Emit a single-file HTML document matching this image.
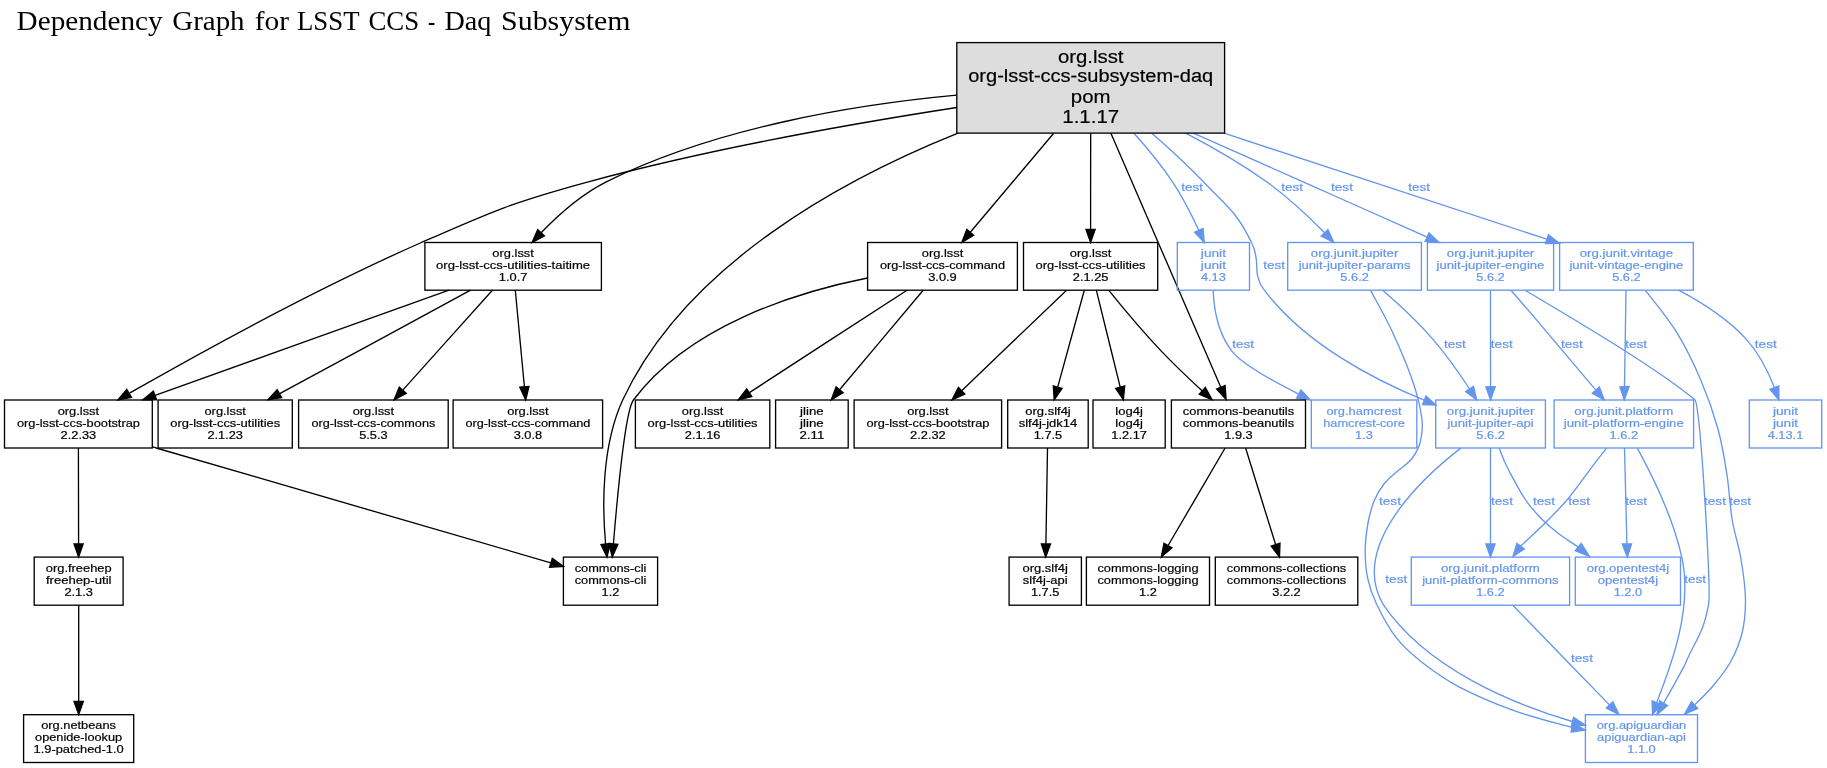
<!DOCTYPE html>
<html><head><meta charset="utf-8"><title>Dependency Graph</title>
<style>
html,body{margin:0;padding:0;background:#fff}
svg{display:block;will-change:transform}
text{font-family:"Liberation Sans",sans-serif;stroke-width:0.2px}
.k{stroke:#000}.b{stroke:#6495ed}
.t{font-family:"Liberation Serif",serif}
.e{fill:none;stroke-width:1.33}
.n{stroke-width:1.33}
</style></head>
<body>
<svg width="1827" height="768" viewBox="0 0 1827 768">
<rect width="1827" height="768" fill="#fff"/>
<text class="t" x="16.6" y="30" font-size="26.6" textLength="146.0" lengthAdjust="spacingAndGlyphs" fill="#000">Dependency</text>
<text class="t" x="172.3" y="30" font-size="26.6" textLength="72.3" lengthAdjust="spacingAndGlyphs" fill="#000">Graph</text>
<text class="t" x="254.7" y="30" font-size="26.6" textLength="34.3" lengthAdjust="spacingAndGlyphs" fill="#000">for</text>
<text class="t" x="297.0" y="30" font-size="26.6" textLength="62.5" lengthAdjust="spacingAndGlyphs" fill="#000">LSST</text>
<text class="t" x="368.5" y="30" font-size="26.6" textLength="50.6" lengthAdjust="spacingAndGlyphs" fill="#000">CCS</text>
<text class="t" x="428.1" y="30" font-size="26.6" textLength="7.2" lengthAdjust="spacingAndGlyphs" fill="#000">-</text>
<text class="t" x="444.4" y="30" font-size="26.6" textLength="47.0" lengthAdjust="spacingAndGlyphs" fill="#000">Daq</text>
<text class="t" x="501.1" y="30" font-size="26.6" textLength="129.5" lengthAdjust="spacingAndGlyphs" fill="#000">Subsystem</text>
<path class="e" stroke="#000" d="M956.7,95.2C855.9,104.5 716.7,127.2 606.3,181.8C581.4,194.2 558.2,215.0 541.1,232.7"/><polygon fill="#000" stroke="#000" stroke-width="1.33" points="544.4,235.9 532.1,242.5 537.7,229.7"/>
<path class="e" stroke="#000" d="M1053.7,133.3C1027.8,164.0 993.8,204.3 970.3,232.3"/><polygon fill="#000" stroke="#000" stroke-width="1.33" points="973.8,235.3 961.8,242.4 966.8,229.4"/>
<path class="e" stroke="#000" d="M1090.7,133.3C1090.6,162.8 1090.6,201.2 1090.6,228.9"/><polygon fill="#000" stroke="#000" stroke-width="1.33" points="1095.2,229.3 1090.6,242.4 1086.0,229.3"/>
<path class="e" stroke="#6495ed" d="M1134.1,133.5C1147.4,148.2 1161.4,165.1 1172.5,181.8C1182.6,196.9 1191.7,214.9 1198.8,230.3"/><polygon fill="#6495ed" stroke="#6495ed" stroke-width="1.33" points="1203.1,228.6 1204.2,242.5 1194.6,232.3"/>
<text x="1192.2" y="190.7" font-size="11.4" text-anchor="middle" textLength="21.9" lengthAdjust="spacingAndGlyphs" fill="#6495ed" class="b">test</text>
<path class="e" stroke="#6495ed" d="M1185.7,133.2C1212.7,147.3 1241.6,164.0 1266.6,181.8C1287.4,196.7 1308.1,216.1 1324.3,232.5"/><polygon fill="#6495ed" stroke="#6495ed" stroke-width="1.33" points="1327.9,229.6 1333.7,242.3 1321.2,236.0"/>
<text x="1292.1" y="190.7" font-size="11.4" text-anchor="middle" textLength="21.9" lengthAdjust="spacingAndGlyphs" fill="#6495ed" class="b">test</text>
<path class="e" stroke="#6495ed" d="M1193.4,133.1C1228.0,148.5 1267.3,165.9 1303.1,181.8C1344.1,200.1 1390.4,220.8 1426.6,236.9"/><polygon fill="#6495ed" stroke="#6495ed" stroke-width="1.33" points="1429.0,232.9 1439.0,242.5 1425.1,241.3"/>
<text x="1342.0" y="190.7" font-size="11.4" text-anchor="middle" textLength="21.9" lengthAdjust="spacingAndGlyphs" fill="#6495ed" class="b">test</text>
<path class="e" stroke="#6495ed" d="M1224.1,133.2C1325.6,166.5 1461.6,211.2 1546.8,239.2"/><polygon fill="#6495ed" stroke="#6495ed" stroke-width="1.33" points="1548.4,234.9 1559.5,243.3 1545.5,243.6"/>
<text x="1419.1" y="190.7" font-size="11.4" text-anchor="middle" textLength="21.9" lengthAdjust="spacingAndGlyphs" fill="#6495ed" class="b">test</text>
<path class="e" stroke="#000" d="M956.7,107.5C854.8,123.3 711.5,148.4 588.3,181.8C512.1,202.5 493.7,210.7 421.4,242.5C314.6,289.6 195.4,355.5 129.5,393.2"/><polygon fill="#000" stroke="#000" stroke-width="1.33" points="131.5,397.4 117.8,399.9 126.8,389.4"/>
<path class="e" stroke="#000" d="M1110.8,133.1C1120.0,154.3 1147.5,217.8 1165.8,260.1C1184.1,302.5 1211.7,366.0 1220.8,387.2"/><polygon fill="#000" stroke="#000" stroke-width="1.33" points="1216.6,389.0 1226.1,399.3 1225.1,385.4"/>
<path class="e" stroke="#6495ed" d="M1151.8,133.2C1168.9,148.0 1187.4,165.1 1203.4,181.8C1227.0,206.8 1236.5,211.3 1251.5,242.5C1261.8,262.0 1251.0,272.8 1264.3,290.2C1304.8,343.6 1373.2,379.4 1424.1,400.2"/><polygon fill="#6495ed" stroke="#6495ed" stroke-width="1.33" points="1426.0,395.9 1435.9,405.0 1422.6,404.5"/>
<text x="1274.1" y="268.7" font-size="11.4" text-anchor="middle" textLength="21.9" lengthAdjust="spacingAndGlyphs" fill="#6495ed" class="b">test</text>
<path class="e" stroke="#000" d="M958.0,133.2C843.4,179.2 686.1,264.0 622.7,400.0C601.5,446.3 602.2,506.4 605.6,544.0"/><polygon fill="#000" stroke="#000" stroke-width="1.33" points="610.2,543.5 607.0,557.1 601.0,544.6"/>
<path class="e" stroke="#000" d="M449.0,290.2C371.0,318.2 238.8,365.5 155.1,395.4"/><polygon fill="#000" stroke="#000" stroke-width="1.33" points="156.6,399.8 142.8,399.9 153.4,391.1"/>
<path class="e" stroke="#000" d="M470.6,290.2C420.1,317.7 335.3,363.6 279.7,393.6"/><polygon fill="#000" stroke="#000" stroke-width="1.33" points="281.7,397.7 267.9,399.9 277.2,389.6"/>
<path class="e" stroke="#000" d="M492.4,290.2C468.6,316.6 430.0,359.9 403.0,389.9"/><polygon fill="#000" stroke="#000" stroke-width="1.33" points="406.3,393.3 394.1,399.9 399.3,387.1"/>
<path class="e" stroke="#000" d="M515.3,290.2C517.7,315.6 521.6,356.9 524.4,386.7"/><polygon fill="#000" stroke="#000" stroke-width="1.33" points="529.0,386.4 525.7,399.9 519.8,387.1"/>
<path class="e" stroke="#000" d="M907.0,290.2C865.0,317.4 795.2,362.6 749.4,392.6"/><polygon fill="#000" stroke="#000" stroke-width="1.33" points="751.8,396.6 738.2,399.9 746.7,388.8"/>
<path class="e" stroke="#000" d="M923.2,290.2C901.2,316.4 865.0,359.6 839.8,389.5"/><polygon fill="#000" stroke="#000" stroke-width="1.33" points="843.1,392.7 831.2,399.9 836.1,386.8"/>
<path class="e" stroke="#000" d="M867.4,278.0C795.1,292.5 689.0,325.7 633.4,400.0C625.2,411.3 617.5,494.7 613.4,543.8"/><polygon fill="#000" stroke="#000" stroke-width="1.33" points="617.9,544.3 612.3,557.0 608.8,543.6"/>
<path class="e" stroke="#000" d="M1066.6,290.2C1038.8,316.8 993.0,360.7 961.7,390.7"/><polygon fill="#000" stroke="#000" stroke-width="1.33" points="964.8,394.1 952.0,399.9 958.4,387.4"/>
<path class="e" stroke="#000" d="M1084.3,290.2C1077.2,315.8 1065.9,357.3 1057.7,387.1"/><polygon fill="#000" stroke="#000" stroke-width="1.33" points="1062.1,388.4 1054.2,399.9 1053.3,386.0"/>
<path class="e" stroke="#000" d="M1096.3,290.2C1102.6,315.8 1112.9,357.3 1120.2,387.1"/><polygon fill="#000" stroke="#000" stroke-width="1.33" points="1124.7,386.0 1123.4,399.9 1115.7,388.3"/>
<path class="e" stroke="#000" d="M1108.8,290.3C1122.7,307.5 1142.6,331.3 1161.3,351.1C1174.2,364.6 1189.0,378.7 1202.3,390.9"/><polygon fill="#000" stroke="#000" stroke-width="1.33" points="1205.4,387.5 1212.0,399.7 1199.2,394.3"/>
<path class="e" stroke="#6495ed" d="M1213.1,290.4C1213.9,308.6 1218.3,333.7 1231.9,351.1C1241.3,363.3 1270.5,379.9 1298.6,394.1"/><polygon fill="#6495ed" stroke="#6495ed" stroke-width="1.33" points="1300.9,390.0 1310.4,400.0 1296.7,398.3"/>
<text x="1243.2" y="348.1" font-size="11.4" text-anchor="middle" textLength="21.9" lengthAdjust="spacingAndGlyphs" fill="#6495ed" class="b">test</text>
<path class="e" stroke="#6495ed" d="M1382.9,290.5C1398.5,303.9 1417.8,321.6 1432.8,339.1C1446.0,354.4 1459.0,372.8 1469.3,388.5"/><polygon fill="#6495ed" stroke="#6495ed" stroke-width="1.33" points="1473.5,386.4 1476.7,399.9 1465.7,391.5"/>
<text x="1454.9" y="348.1" font-size="11.4" text-anchor="middle" textLength="21.9" lengthAdjust="spacingAndGlyphs" fill="#6495ed" class="b">test</text>
<path class="e" stroke="#6495ed" d="M1370.6,290.4C1374.3,297.5 1386.0,318.0 1393.0,333.2C1400.0,348.4 1407.9,367.2 1412.7,381.3C1417.5,395.4 1420.5,408.1 1421.8,418.0C1423.1,427.9 1422.1,434.2 1420.5,441.0C1418.9,447.8 1415.9,453.4 1412.0,458.5C1408.1,463.6 1401.7,467.2 1397.0,471.5C1392.3,475.8 1387.8,479.2 1384.0,484.0C1380.2,488.8 1377.1,493.7 1374.5,500.0C1371.9,506.3 1369.8,513.7 1368.2,522.0C1366.7,530.3 1365.3,540.7 1365.2,550.0C1365.1,559.3 1365.7,569.0 1367.6,578.0C1369.5,587.0 1371.7,594.0 1376.5,604.0C1381.3,614.0 1389.0,628.5 1396.6,638.2C1404.2,647.9 1411.7,654.3 1421.9,662.3C1432.1,670.3 1442.8,678.3 1458.0,686.3C1473.2,694.3 1494.4,703.5 1513.4,710.4C1532.4,717.3 1562.2,724.6 1572.0,727.5"/><polygon fill="#6495ed" stroke="#6495ed" stroke-width="1.33" points="1571.1,732.0 1585.2,730.1 1572.9,723.0"/>
<text x="1390.0" y="504.8" font-size="11.4" text-anchor="middle" textLength="21.9" lengthAdjust="spacingAndGlyphs" fill="#6495ed" class="b">test</text>
<path class="e" stroke="#6495ed" d="M1490.5,290.2C1490.5,315.6 1490.5,356.9 1490.6,386.7"/><polygon fill="#6495ed" stroke="#6495ed" stroke-width="1.33" points="1495.2,386.6 1490.6,399.9 1485.9,386.8"/>
<text x="1501.8" y="348.1" font-size="11.4" text-anchor="middle" textLength="21.9" lengthAdjust="spacingAndGlyphs" fill="#6495ed" class="b">test</text>
<path class="e" stroke="#6495ed" d="M1510.9,290.2C1534.2,316.6 1570.0,359.9 1595.7,389.9"/><polygon fill="#6495ed" stroke="#6495ed" stroke-width="1.33" points="1599.4,387.0 1604.2,399.9 1592.3,393.3"/>
<text x="1571.9" y="348.1" font-size="11.4" text-anchor="middle" textLength="21.9" lengthAdjust="spacingAndGlyphs" fill="#6495ed" class="b">test</text>
<path class="e" stroke="#6495ed" d="M1525.2,290.3C1573.0,318.8 1656.4,367.5 1695.1,400.0C1700.7,409.9 1711.4,594.0 1708.4,605.2C1703.3,634.5 1695.3,639.4 1684.3,665.9C1677.9,678.1 1670.4,691.3 1663.7,703.0"/><polygon fill="#6495ed" stroke="#6495ed" stroke-width="1.33" points="1667.6,705.5 1657.0,714.6 1659.6,700.9"/>
<text x="1715.0" y="504.8" font-size="11.4" text-anchor="middle" textLength="21.9" lengthAdjust="spacingAndGlyphs" fill="#6495ed" class="b">test</text>
<path class="e" stroke="#6495ed" d="M1626.0,290.2C1625.6,315.6 1625.0,356.9 1624.5,386.7"/><polygon fill="#6495ed" stroke="#6495ed" stroke-width="1.33" points="1629.1,386.5 1624.3,399.9 1619.9,386.9"/>
<text x="1636.2" y="348.1" font-size="11.4" text-anchor="middle" textLength="21.9" lengthAdjust="spacingAndGlyphs" fill="#6495ed" class="b">test</text>
<path class="e" stroke="#6495ed" d="M1678.7,290.2C1701.3,302.2 1727.3,318.6 1746.2,339.1C1758.8,352.8 1767.9,371.1 1774.2,387.1"/><polygon fill="#6495ed" stroke="#6495ed" stroke-width="1.33" points="1778.8,385.9 1778.9,399.8 1770.0,389.2"/>
<text x="1765.8" y="348.1" font-size="11.4" text-anchor="middle" textLength="21.9" lengthAdjust="spacingAndGlyphs" fill="#6495ed" class="b">test</text>
<path class="e" stroke="#6495ed" d="M1645.4,290.4C1650.7,297.5 1667.9,318.0 1677.2,333.2C1686.5,348.4 1694.5,365.2 1701.3,381.3C1708.1,397.4 1713.8,413.9 1718.1,429.5C1722.4,445.1 1724.7,459.9 1727.0,475.0C1729.3,490.1 1729.9,506.2 1732.2,520.0C1734.5,533.8 1738.6,545.0 1740.8,558.0C1743.0,571.0 1745.2,585.7 1745.4,598.0C1745.7,610.3 1744.8,621.3 1742.3,632.0C1739.8,642.7 1735.5,652.9 1730.5,662.0C1725.5,671.1 1718.5,679.3 1712.5,686.5C1706.5,693.7 1697.6,701.9 1694.6,705.0"/><polygon fill="#6495ed" stroke="#6495ed" stroke-width="1.33" points="1691.5,701.6 1684.6,714.0 1697.7,708.4"/>
<text x="1740.1" y="504.8" font-size="11.4" text-anchor="middle" textLength="21.9" lengthAdjust="spacingAndGlyphs" fill="#6495ed" class="b">test</text>
<path class="e" stroke="#000" d="M78.4,448.0C78.5,473.3 78.5,514.3 78.6,543.9"/><polygon fill="#000" stroke="#000" stroke-width="1.33" points="83.2,543.9 78.6,557.0 74.0,543.9"/>
<path class="e" stroke="#000" d="M152.6,446.9C153.8,447.3 155.0,447.6 156.2,448.0C298.6,489.4 464.3,537.6 550.8,562.8"/><polygon fill="#000" stroke="#000" stroke-width="1.33" points="552.3,558.4 563.5,566.5 549.6,567.3"/>
<path class="e" stroke="#000" d="M1047.5,448.0C1047.1,473.3 1046.4,514.3 1045.9,543.9"/><polygon fill="#000" stroke="#000" stroke-width="1.33" points="1050.5,543.9 1045.7,557.0 1041.3,543.9"/>
<path class="e" stroke="#000" d="M1225.1,448.0C1210.1,473.7 1185.5,515.8 1168.1,545.5"/><polygon fill="#000" stroke="#000" stroke-width="1.33" points="1172.0,547.8 1161.3,557.0 1164.0,543.3"/>
<path class="e" stroke="#000" d="M1245.6,448.0C1253.5,473.4 1266.3,514.7 1275.5,544.3"/><polygon fill="#000" stroke="#000" stroke-width="1.33" points="1280.0,543.1 1279.5,557.0 1271.2,546.0"/>
<path class="e" stroke="#6495ed" d="M1490.5,448.0C1490.5,473.3 1490.5,514.3 1490.5,543.9"/><polygon fill="#6495ed" stroke="#6495ed" stroke-width="1.33" points="1495.1,543.9 1490.5,557.0 1485.8,543.9"/>
<text x="1502.0" y="504.8" font-size="11.4" text-anchor="middle" textLength="21.9" lengthAdjust="spacingAndGlyphs" fill="#6495ed" class="b">test</text>
<path class="e" stroke="#6495ed" d="M1499.2,448.2C1500.1,450.4 1502.2,456.3 1504.4,461.2C1506.6,466.1 1509.8,472.2 1512.5,477.4C1515.2,482.5 1518.0,487.6 1520.7,492.1C1523.4,496.6 1526.1,500.7 1528.8,504.3C1531.5,507.9 1534.3,511.0 1537.0,514.0C1539.7,517.0 1541.8,519.2 1545.1,522.2C1548.3,525.2 1552.7,528.9 1556.5,531.9C1560.3,534.9 1564.3,537.6 1567.9,540.1C1571.5,542.6 1576.5,545.9 1578.2,547.1"/><polygon fill="#6495ed" stroke="#6495ed" stroke-width="1.33" points="1575.2,550.7 1589.4,556.4 1581.2,543.5"/>
<text x="1544.0" y="504.8" font-size="11.4" text-anchor="middle" textLength="21.9" lengthAdjust="spacingAndGlyphs" fill="#6495ed" class="b">test</text>
<path class="e" stroke="#6495ed" d="M1460.8,448.1C1416.4,482.4 1349.8,549.1 1383.6,605.2C1427.0,668.9 1512.7,703.8 1572.3,721.5"/><polygon fill="#6495ed" stroke="#6495ed" stroke-width="1.33" points="1573.6,717.2 1585.3,725.3 1571.4,726.0"/>
<text x="1396.3" y="583.2" font-size="11.4" text-anchor="middle" textLength="21.9" lengthAdjust="spacingAndGlyphs" fill="#6495ed" class="b">test</text>
<path class="e" stroke="#6495ed" d="M1606.6,448.2C1604.5,450.9 1598.7,458.0 1593.9,464.4C1589.1,470.8 1582.5,480.0 1577.6,486.4C1572.7,492.8 1570.0,496.6 1564.6,502.7C1559.2,508.8 1551.1,517.0 1545.1,523.0C1539.1,529.0 1532.9,534.6 1528.8,538.5C1524.7,542.4 1522.0,544.9 1520.6,546.2"/><polygon fill="#6495ed" stroke="#6495ed" stroke-width="1.33" points="1516.9,543.4 1513.0,556.4 1524.3,549.0"/>
<text x="1579.1" y="504.8" font-size="11.4" text-anchor="middle" textLength="21.9" lengthAdjust="spacingAndGlyphs" fill="#6495ed" class="b">test</text>
<path class="e" stroke="#6495ed" d="M1624.5,448.0C1625.1,473.3 1626.2,514.3 1626.9,543.9"/><polygon fill="#6495ed" stroke="#6495ed" stroke-width="1.33" points="1631.6,543.9 1627.3,557.0 1622.3,543.9"/>
<text x="1636.1" y="504.8" font-size="11.4" text-anchor="middle" textLength="21.9" lengthAdjust="spacingAndGlyphs" fill="#6495ed" class="b">test</text>
<path class="e" stroke="#6495ed" d="M1637.3,448.1C1651.4,473.8 1672.8,517.0 1681.8,557.1C1693.1,608.5 1670.7,666.6 1656.6,702.7"/><polygon fill="#6495ed" stroke="#6495ed" stroke-width="1.33" points="1661.0,704.8 1652.6,714.5 1652.1,700.7"/>
<text x="1695.1" y="583.2" font-size="11.4" text-anchor="middle" textLength="21.9" lengthAdjust="spacingAndGlyphs" fill="#6495ed" class="b">test</text>
<path class="e" stroke="#000" d="M78.7,605.2C78.7,630.6 78.7,671.7 78.7,701.5"/><polygon fill="#000" stroke="#000" stroke-width="1.33" points="83.3,701.5 78.7,714.6 74.0,701.5"/>
<path class="e" stroke="#6495ed" d="M1512.8,605.2C1538.3,631.5 1580.0,674.7 1609.2,704.6"/><polygon fill="#6495ed" stroke="#6495ed" stroke-width="1.33" points="1612.8,701.8 1619.0,714.6 1606.3,708.1"/>
<text x="1582.0" y="662.3" font-size="11.4" text-anchor="middle" textLength="21.9" lengthAdjust="spacingAndGlyphs" fill="#6495ed" class="b">test</text>
<rect class="n" x="956.8" y="42.6" width="267.8" height="90.5" fill="#dddddd" stroke="#000"/>
<text x="1090.7" y="63.0" font-size="18.8" text-anchor="middle" textLength="65.6" lengthAdjust="spacingAndGlyphs" fill="#000" class="k">org.lsst</text>
<text x="1090.7" y="82.0" font-size="18.8" text-anchor="middle" textLength="245.0" lengthAdjust="spacingAndGlyphs" fill="#000" class="k">org-lsst-ccs-subsystem-daq</text>
<text x="1090.7" y="102.6" font-size="18.8" text-anchor="middle" textLength="39.7" lengthAdjust="spacingAndGlyphs" fill="#000" class="k">pom</text>
<text x="1090.7" y="123.0" font-size="18.8" text-anchor="middle" textLength="56.9" lengthAdjust="spacingAndGlyphs" fill="#000" class="k">1.1.17</text>
<rect class="n" x="424.9" y="242.5" width="176.5" height="47.7" fill="none" stroke="#000"/>
<text x="513.1" y="257.0" font-size="11.4" text-anchor="middle" textLength="41.5" lengthAdjust="spacingAndGlyphs" fill="#000" class="k">org.lsst</text>
<text x="513.1" y="269.0" font-size="11.4" text-anchor="middle" textLength="154.1" lengthAdjust="spacingAndGlyphs" fill="#000" class="k">org-lsst-ccs-utilities-taitime</text>
<text x="513.1" y="281.0" font-size="11.4" text-anchor="middle" textLength="28.5" lengthAdjust="spacingAndGlyphs" fill="#000" class="k">1.0.7</text>
<rect class="n" x="867.6" y="242.5" width="149.8" height="47.7" fill="none" stroke="#000"/>
<text x="942.5" y="257.0" font-size="11.4" text-anchor="middle" textLength="41.5" lengthAdjust="spacingAndGlyphs" fill="#000" class="k">org.lsst</text>
<text x="942.5" y="269.0" font-size="11.4" text-anchor="middle" textLength="125.0" lengthAdjust="spacingAndGlyphs" fill="#000" class="k">org-lsst-ccs-command</text>
<text x="942.5" y="281.0" font-size="11.4" text-anchor="middle" textLength="28.5" lengthAdjust="spacingAndGlyphs" fill="#000" class="k">3.0.9</text>
<rect class="n" x="1023.5" y="242.5" width="134.2" height="47.7" fill="none" stroke="#000"/>
<text x="1090.6" y="257.0" font-size="11.4" text-anchor="middle" textLength="41.5" lengthAdjust="spacingAndGlyphs" fill="#000" class="k">org.lsst</text>
<text x="1090.6" y="269.0" font-size="11.4" text-anchor="middle" textLength="110.0" lengthAdjust="spacingAndGlyphs" fill="#000" class="k">org-lsst-ccs-utilities</text>
<text x="1090.6" y="281.0" font-size="11.4" text-anchor="middle" textLength="35.6" lengthAdjust="spacingAndGlyphs" fill="#000" class="k">2.1.25</text>
<rect class="n" x="1177.3" y="242.5" width="72.2" height="47.7" fill="none" stroke="#6495ed"/>
<text x="1213.4" y="257.0" font-size="11.4" text-anchor="middle" textLength="25.1" lengthAdjust="spacingAndGlyphs" fill="#6495ed" class="b">junit</text>
<text x="1213.4" y="269.0" font-size="11.4" text-anchor="middle" textLength="25.1" lengthAdjust="spacingAndGlyphs" fill="#6495ed" class="b">junit</text>
<text x="1213.4" y="281.0" font-size="11.4" text-anchor="middle" textLength="24.9" lengthAdjust="spacingAndGlyphs" fill="#6495ed" class="b">4.13</text>
<rect class="n" x="1287.7" y="242.5" width="133.7" height="47.7" fill="none" stroke="#6495ed"/>
<text x="1354.6" y="257.0" font-size="11.4" text-anchor="middle" textLength="87.5" lengthAdjust="spacingAndGlyphs" fill="#6495ed" class="b">org.junit.jupiter</text>
<text x="1354.6" y="269.0" font-size="11.4" text-anchor="middle" textLength="111.8" lengthAdjust="spacingAndGlyphs" fill="#6495ed" class="b">junit-jupiter-params</text>
<text x="1354.6" y="281.0" font-size="11.4" text-anchor="middle" textLength="28.5" lengthAdjust="spacingAndGlyphs" fill="#6495ed" class="b">5.6.2</text>
<rect class="n" x="1427.4" y="242.5" width="126.2" height="47.7" fill="none" stroke="#6495ed"/>
<text x="1490.5" y="257.0" font-size="11.4" text-anchor="middle" textLength="87.5" lengthAdjust="spacingAndGlyphs" fill="#6495ed" class="b">org.junit.jupiter</text>
<text x="1490.5" y="269.0" font-size="11.4" text-anchor="middle" textLength="107.8" lengthAdjust="spacingAndGlyphs" fill="#6495ed" class="b">junit-jupiter-engine</text>
<text x="1490.5" y="281.0" font-size="11.4" text-anchor="middle" textLength="28.5" lengthAdjust="spacingAndGlyphs" fill="#6495ed" class="b">5.6.2</text>
<rect class="n" x="1559.6" y="242.5" width="133.7" height="47.7" fill="none" stroke="#6495ed"/>
<text x="1626.4" y="257.0" font-size="11.4" text-anchor="middle" textLength="93.3" lengthAdjust="spacingAndGlyphs" fill="#6495ed" class="b">org.junit.vintage</text>
<text x="1626.4" y="269.0" font-size="11.4" text-anchor="middle" textLength="114.0" lengthAdjust="spacingAndGlyphs" fill="#6495ed" class="b">junit-vintage-engine</text>
<text x="1626.4" y="281.0" font-size="11.4" text-anchor="middle" textLength="28.5" lengthAdjust="spacingAndGlyphs" fill="#6495ed" class="b">5.6.2</text>
<rect class="n" x="4.5" y="400.0" width="147.8" height="48.0" fill="none" stroke="#000"/>
<text x="78.4" y="415.0" font-size="11.4" text-anchor="middle" textLength="41.5" lengthAdjust="spacingAndGlyphs" fill="#000" class="k">org.lsst</text>
<text x="78.4" y="427.0" font-size="11.4" text-anchor="middle" textLength="123.0" lengthAdjust="spacingAndGlyphs" fill="#000" class="k">org-lsst-ccs-bootstrap</text>
<text x="78.4" y="439.0" font-size="11.4" text-anchor="middle" textLength="35.6" lengthAdjust="spacingAndGlyphs" fill="#000" class="k">2.2.33</text>
<rect class="n" x="158.1" y="400.0" width="134.2" height="48.0" fill="none" stroke="#000"/>
<text x="225.2" y="415.0" font-size="11.4" text-anchor="middle" textLength="41.5" lengthAdjust="spacingAndGlyphs" fill="#000" class="k">org.lsst</text>
<text x="225.2" y="427.0" font-size="11.4" text-anchor="middle" textLength="110.0" lengthAdjust="spacingAndGlyphs" fill="#000" class="k">org-lsst-ccs-utilities</text>
<text x="225.2" y="439.0" font-size="11.4" text-anchor="middle" textLength="35.6" lengthAdjust="spacingAndGlyphs" fill="#000" class="k">2.1.23</text>
<rect class="n" x="298.6" y="400.0" width="149.6" height="48.0" fill="none" stroke="#000"/>
<text x="373.4" y="415.0" font-size="11.4" text-anchor="middle" textLength="41.5" lengthAdjust="spacingAndGlyphs" fill="#000" class="k">org.lsst</text>
<text x="373.4" y="427.0" font-size="11.4" text-anchor="middle" textLength="123.7" lengthAdjust="spacingAndGlyphs" fill="#000" class="k">org-lsst-ccs-commons</text>
<text x="373.4" y="439.0" font-size="11.4" text-anchor="middle" textLength="28.5" lengthAdjust="spacingAndGlyphs" fill="#000" class="k">5.5.3</text>
<rect class="n" x="453.1" y="400.0" width="149.5" height="48.0" fill="none" stroke="#000"/>
<text x="527.9" y="415.0" font-size="11.4" text-anchor="middle" textLength="41.5" lengthAdjust="spacingAndGlyphs" fill="#000" class="k">org.lsst</text>
<text x="527.9" y="427.0" font-size="11.4" text-anchor="middle" textLength="125.0" lengthAdjust="spacingAndGlyphs" fill="#000" class="k">org-lsst-ccs-command</text>
<text x="527.9" y="439.0" font-size="11.4" text-anchor="middle" textLength="28.5" lengthAdjust="spacingAndGlyphs" fill="#000" class="k">3.0.8</text>
<rect class="n" x="635.4" y="400.0" width="134.4" height="48.0" fill="none" stroke="#000"/>
<text x="702.6" y="415.0" font-size="11.4" text-anchor="middle" textLength="41.5" lengthAdjust="spacingAndGlyphs" fill="#000" class="k">org.lsst</text>
<text x="702.6" y="427.0" font-size="11.4" text-anchor="middle" textLength="110.0" lengthAdjust="spacingAndGlyphs" fill="#000" class="k">org-lsst-ccs-utilities</text>
<text x="702.6" y="439.0" font-size="11.4" text-anchor="middle" textLength="35.6" lengthAdjust="spacingAndGlyphs" fill="#000" class="k">2.1.16</text>
<rect class="n" x="775.6" y="400.0" width="72.6" height="48.0" fill="none" stroke="#000"/>
<text x="811.9" y="415.0" font-size="11.4" text-anchor="middle" textLength="23.6" lengthAdjust="spacingAndGlyphs" fill="#000" class="k">jline</text>
<text x="811.9" y="427.0" font-size="11.4" text-anchor="middle" textLength="23.6" lengthAdjust="spacingAndGlyphs" fill="#000" class="k">jline</text>
<text x="811.9" y="439.0" font-size="11.4" text-anchor="middle" textLength="24.9" lengthAdjust="spacingAndGlyphs" fill="#000" class="k">2.11</text>
<rect class="n" x="854.1" y="400.0" width="147.5" height="48.0" fill="none" stroke="#000"/>
<text x="927.9" y="415.0" font-size="11.4" text-anchor="middle" textLength="41.5" lengthAdjust="spacingAndGlyphs" fill="#000" class="k">org.lsst</text>
<text x="927.9" y="427.0" font-size="11.4" text-anchor="middle" textLength="123.0" lengthAdjust="spacingAndGlyphs" fill="#000" class="k">org-lsst-ccs-bootstrap</text>
<text x="927.9" y="439.0" font-size="11.4" text-anchor="middle" textLength="35.6" lengthAdjust="spacingAndGlyphs" fill="#000" class="k">2.2.32</text>
<rect class="n" x="1007.7" y="400.0" width="80.5" height="48.0" fill="none" stroke="#000"/>
<text x="1048.0" y="415.0" font-size="11.4" text-anchor="middle" textLength="45.5" lengthAdjust="spacingAndGlyphs" fill="#000" class="k">org.slf4j</text>
<text x="1048.0" y="427.0" font-size="11.4" text-anchor="middle" textLength="58.7" lengthAdjust="spacingAndGlyphs" fill="#000" class="k">slf4j-jdk14</text>
<text x="1048.0" y="439.0" font-size="11.4" text-anchor="middle" textLength="28.5" lengthAdjust="spacingAndGlyphs" fill="#000" class="k">1.7.5</text>
<rect class="n" x="1093.0" y="400.0" width="72.2" height="48.0" fill="none" stroke="#000"/>
<text x="1129.1" y="415.0" font-size="11.4" text-anchor="middle" textLength="27.6" lengthAdjust="spacingAndGlyphs" fill="#000" class="k">log4j</text>
<text x="1129.1" y="427.0" font-size="11.4" text-anchor="middle" textLength="27.6" lengthAdjust="spacingAndGlyphs" fill="#000" class="k">log4j</text>
<text x="1129.1" y="439.0" font-size="11.4" text-anchor="middle" textLength="35.6" lengthAdjust="spacingAndGlyphs" fill="#000" class="k">1.2.17</text>
<rect class="n" x="1171.4" y="400.0" width="134.1" height="48.0" fill="none" stroke="#000"/>
<text x="1238.5" y="415.0" font-size="11.4" text-anchor="middle" textLength="111.3" lengthAdjust="spacingAndGlyphs" fill="#000" class="k">commons-beanutils</text>
<text x="1238.5" y="427.0" font-size="11.4" text-anchor="middle" textLength="111.3" lengthAdjust="spacingAndGlyphs" fill="#000" class="k">commons-beanutils</text>
<text x="1238.5" y="439.0" font-size="11.4" text-anchor="middle" textLength="28.5" lengthAdjust="spacingAndGlyphs" fill="#000" class="k">1.9.3</text>
<rect class="n" x="1311.3" y="400.0" width="105.5" height="48.0" fill="none" stroke="#6495ed"/>
<text x="1364.0" y="415.0" font-size="11.4" text-anchor="middle" textLength="75.2" lengthAdjust="spacingAndGlyphs" fill="#6495ed" class="b">org.hamcrest</text>
<text x="1364.0" y="427.0" font-size="11.4" text-anchor="middle" textLength="81.6" lengthAdjust="spacingAndGlyphs" fill="#6495ed" class="b">hamcrest-core</text>
<text x="1364.0" y="439.0" font-size="11.4" text-anchor="middle" textLength="17.8" lengthAdjust="spacingAndGlyphs" fill="#6495ed" class="b">1.3</text>
<rect class="n" x="1435.7" y="400.0" width="109.7" height="48.0" fill="none" stroke="#6495ed"/>
<text x="1490.6" y="415.0" font-size="11.4" text-anchor="middle" textLength="87.5" lengthAdjust="spacingAndGlyphs" fill="#6495ed" class="b">org.junit.jupiter</text>
<text x="1490.6" y="427.0" font-size="11.4" text-anchor="middle" textLength="86.4" lengthAdjust="spacingAndGlyphs" fill="#6495ed" class="b">junit-jupiter-api</text>
<text x="1490.6" y="439.0" font-size="11.4" text-anchor="middle" textLength="28.5" lengthAdjust="spacingAndGlyphs" fill="#6495ed" class="b">5.6.2</text>
<rect class="n" x="1554.1" y="400.0" width="139.5" height="48.0" fill="none" stroke="#6495ed"/>
<text x="1623.8" y="415.0" font-size="11.4" text-anchor="middle" textLength="98.9" lengthAdjust="spacingAndGlyphs" fill="#6495ed" class="b">org.junit.platform</text>
<text x="1623.8" y="427.0" font-size="11.4" text-anchor="middle" textLength="119.9" lengthAdjust="spacingAndGlyphs" fill="#6495ed" class="b">junit-platform-engine</text>
<text x="1623.8" y="439.0" font-size="11.4" text-anchor="middle" textLength="28.5" lengthAdjust="spacingAndGlyphs" fill="#6495ed" class="b">1.6.2</text>
<rect class="n" x="1749.3" y="400.0" width="72.4" height="48.0" fill="none" stroke="#6495ed"/>
<text x="1785.5" y="415.0" font-size="11.4" text-anchor="middle" textLength="25.1" lengthAdjust="spacingAndGlyphs" fill="#6495ed" class="b">junit</text>
<text x="1785.5" y="427.0" font-size="11.4" text-anchor="middle" textLength="25.1" lengthAdjust="spacingAndGlyphs" fill="#6495ed" class="b">junit</text>
<text x="1785.5" y="439.0" font-size="11.4" text-anchor="middle" textLength="35.6" lengthAdjust="spacingAndGlyphs" fill="#6495ed" class="b">4.13.1</text>
<rect class="n" x="34.2" y="557.1" width="88.9" height="48.1" fill="none" stroke="#000"/>
<text x="78.7" y="572.0" font-size="11.4" text-anchor="middle" textLength="65.8" lengthAdjust="spacingAndGlyphs" fill="#000" class="k">org.freehep</text>
<text x="78.7" y="584.0" font-size="11.4" text-anchor="middle" textLength="65.6" lengthAdjust="spacingAndGlyphs" fill="#000" class="k">freehep-util</text>
<text x="78.7" y="596.0" font-size="11.4" text-anchor="middle" textLength="28.5" lengthAdjust="spacingAndGlyphs" fill="#000" class="k">2.1.3</text>
<rect class="n" x="563.4" y="557.1" width="94.2" height="48.1" fill="none" stroke="#000"/>
<text x="610.5" y="572.0" font-size="11.4" text-anchor="middle" textLength="71.7" lengthAdjust="spacingAndGlyphs" fill="#000" class="k">commons-cli</text>
<text x="610.5" y="584.0" font-size="11.4" text-anchor="middle" textLength="71.7" lengthAdjust="spacingAndGlyphs" fill="#000" class="k">commons-cli</text>
<text x="610.5" y="596.0" font-size="11.4" text-anchor="middle" textLength="17.8" lengthAdjust="spacingAndGlyphs" fill="#000" class="k">1.2</text>
<rect class="n" x="1009.1" y="557.1" width="72.3" height="48.1" fill="none" stroke="#000"/>
<text x="1045.2" y="572.0" font-size="11.4" text-anchor="middle" textLength="45.5" lengthAdjust="spacingAndGlyphs" fill="#000" class="k">org.slf4j</text>
<text x="1045.2" y="584.0" font-size="11.4" text-anchor="middle" textLength="44.7" lengthAdjust="spacingAndGlyphs" fill="#000" class="k">slf4j-api</text>
<text x="1045.2" y="596.0" font-size="11.4" text-anchor="middle" textLength="28.5" lengthAdjust="spacingAndGlyphs" fill="#000" class="k">1.7.5</text>
<rect class="n" x="1086.4" y="557.1" width="123.1" height="48.1" fill="none" stroke="#000"/>
<text x="1148.0" y="572.0" font-size="11.4" text-anchor="middle" textLength="101.2" lengthAdjust="spacingAndGlyphs" fill="#000" class="k">commons-logging</text>
<text x="1148.0" y="584.0" font-size="11.4" text-anchor="middle" textLength="101.2" lengthAdjust="spacingAndGlyphs" fill="#000" class="k">commons-logging</text>
<text x="1148.0" y="596.0" font-size="11.4" text-anchor="middle" textLength="17.8" lengthAdjust="spacingAndGlyphs" fill="#000" class="k">1.2</text>
<rect class="n" x="1215.3" y="557.1" width="142.5" height="48.1" fill="none" stroke="#000"/>
<text x="1286.5" y="572.0" font-size="11.4" text-anchor="middle" textLength="119.4" lengthAdjust="spacingAndGlyphs" fill="#000" class="k">commons-collections</text>
<text x="1286.5" y="584.0" font-size="11.4" text-anchor="middle" textLength="119.4" lengthAdjust="spacingAndGlyphs" fill="#000" class="k">commons-collections</text>
<text x="1286.5" y="596.0" font-size="11.4" text-anchor="middle" textLength="28.5" lengthAdjust="spacingAndGlyphs" fill="#000" class="k">3.2.2</text>
<rect class="n" x="1411.3" y="557.1" width="158.3" height="48.1" fill="none" stroke="#6495ed"/>
<text x="1490.4" y="572.0" font-size="11.4" text-anchor="middle" textLength="98.9" lengthAdjust="spacingAndGlyphs" fill="#6495ed" class="b">org.junit.platform</text>
<text x="1490.4" y="584.0" font-size="11.4" text-anchor="middle" textLength="136.5" lengthAdjust="spacingAndGlyphs" fill="#6495ed" class="b">junit-platform-commons</text>
<text x="1490.4" y="596.0" font-size="11.4" text-anchor="middle" textLength="28.5" lengthAdjust="spacingAndGlyphs" fill="#6495ed" class="b">1.6.2</text>
<rect class="n" x="1575.3" y="557.1" width="105.2" height="48.1" fill="none" stroke="#6495ed"/>
<text x="1627.9" y="572.0" font-size="11.4" text-anchor="middle" textLength="82.4" lengthAdjust="spacingAndGlyphs" fill="#6495ed" class="b">org.opentest4j</text>
<text x="1627.9" y="584.0" font-size="11.4" text-anchor="middle" textLength="60.3" lengthAdjust="spacingAndGlyphs" fill="#6495ed" class="b">opentest4j</text>
<text x="1627.9" y="596.0" font-size="11.4" text-anchor="middle" textLength="28.5" lengthAdjust="spacingAndGlyphs" fill="#6495ed" class="b">1.2.0</text>
<rect class="n" x="23.6" y="714.7" width="110.1" height="47.8" fill="none" stroke="#000"/>
<text x="78.6" y="729.0" font-size="11.4" text-anchor="middle" textLength="74.8" lengthAdjust="spacingAndGlyphs" fill="#000" class="k">org.netbeans</text>
<text x="78.6" y="741.0" font-size="11.4" text-anchor="middle" textLength="87.1" lengthAdjust="spacingAndGlyphs" fill="#000" class="k">openide-lookup</text>
<text x="78.6" y="753.0" font-size="11.4" text-anchor="middle" textLength="90.2" lengthAdjust="spacingAndGlyphs" fill="#000" class="k">1.9-patched-1.0</text>
<rect class="n" x="1585.4" y="714.7" width="112.1" height="47.8" fill="none" stroke="#6495ed"/>
<text x="1641.5" y="729.0" font-size="11.4" text-anchor="middle" textLength="89.6" lengthAdjust="spacingAndGlyphs" fill="#6495ed" class="b">org.apiguardian</text>
<text x="1641.5" y="741.0" font-size="11.4" text-anchor="middle" textLength="88.8" lengthAdjust="spacingAndGlyphs" fill="#6495ed" class="b">apiguardian-api</text>
<text x="1641.5" y="753.0" font-size="11.4" text-anchor="middle" textLength="28.5" lengthAdjust="spacingAndGlyphs" fill="#6495ed" class="b">1.1.0</text>
</svg>
</body></html>
